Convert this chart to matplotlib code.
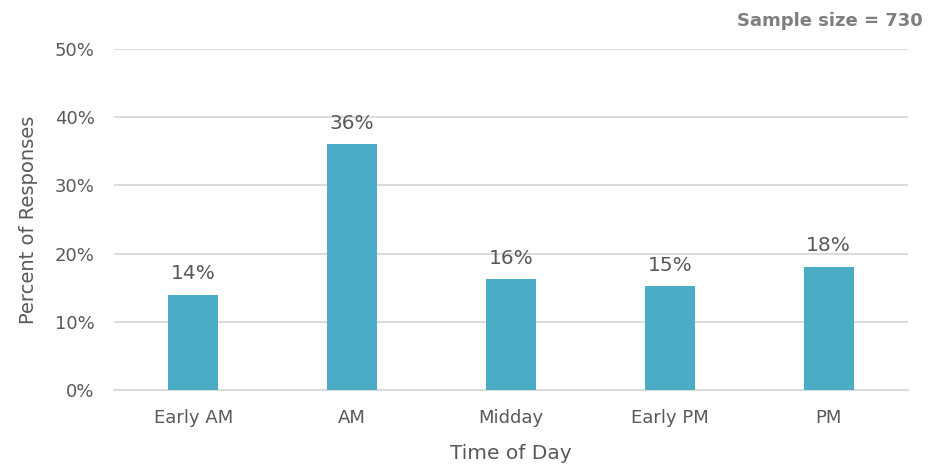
import matplotlib.pyplot as plt
from matplotlib.ticker import FuncFormatter

# data
categories = ['Early AM', 'AM', 'Midday', 'Early PM', 'PM']
percent = [14.0, 36.0, 16.3, 15.2, 18.1]
sample_size = 730

bar_color = '#4BACC6'
text_color = '#595959'
grid_color = '#D9D9D9'

plt.rcParams['font.family'] = ['DejaVu Sans']

fig = plt.figure(figsize=(9.31, 4.66), dpi=100)
ax = fig.add_axes([0.1224, 0.1631, 0.8529, 0.7317])

x = range(len(categories))
bars = ax.bar(x, percent, width=0.315, color=bar_color, zorder=3)

for b, v in zip(bars, percent):
    ax.annotate(f'{v:.0f}%', (b.get_x() + b.get_width() / 2, v),
                xytext=(0, 8), textcoords='offset points',
                ha='center', va='bottom', fontsize=14.5, color=text_color)

ax.set_ylim(0, 50)
ax.set_xlim(-0.5, len(categories) - 0.5)
ax.set_yticks(range(0, 51, 10))
ax.yaxis.set_major_formatter(FuncFormatter(lambda v, p: f'{v:.0f}%'))
ax.set_xticks(list(x))
ax.set_xticklabels(categories)

ax.grid(axis='y', color=grid_color, linewidth=1.3, zorder=0)
for s in ['top', 'right', 'left']:
    ax.spines[s].set_visible(False)
ax.spines['bottom'].set_color(grid_color)
ax.spines['bottom'].set_linewidth(1.3)
ax.tick_params(axis='both', length=0, labelsize=13, colors=text_color)
ax.tick_params(axis='x', pad=14)
ax.tick_params(axis='y', pad=14)

ax.set_xlabel('Time of Day', fontsize=14.5, color=text_color, labelpad=12)
ax.set_ylabel('Percent of Responses', fontsize=14, color=text_color, labelpad=12)

fig.text(0.991, 0.955, f'Sample size = {sample_size}', ha='right', va='center',
         fontsize=13, fontweight='bold', color='#7F7F7F')

fig.savefig('out.png', dpi=100)
